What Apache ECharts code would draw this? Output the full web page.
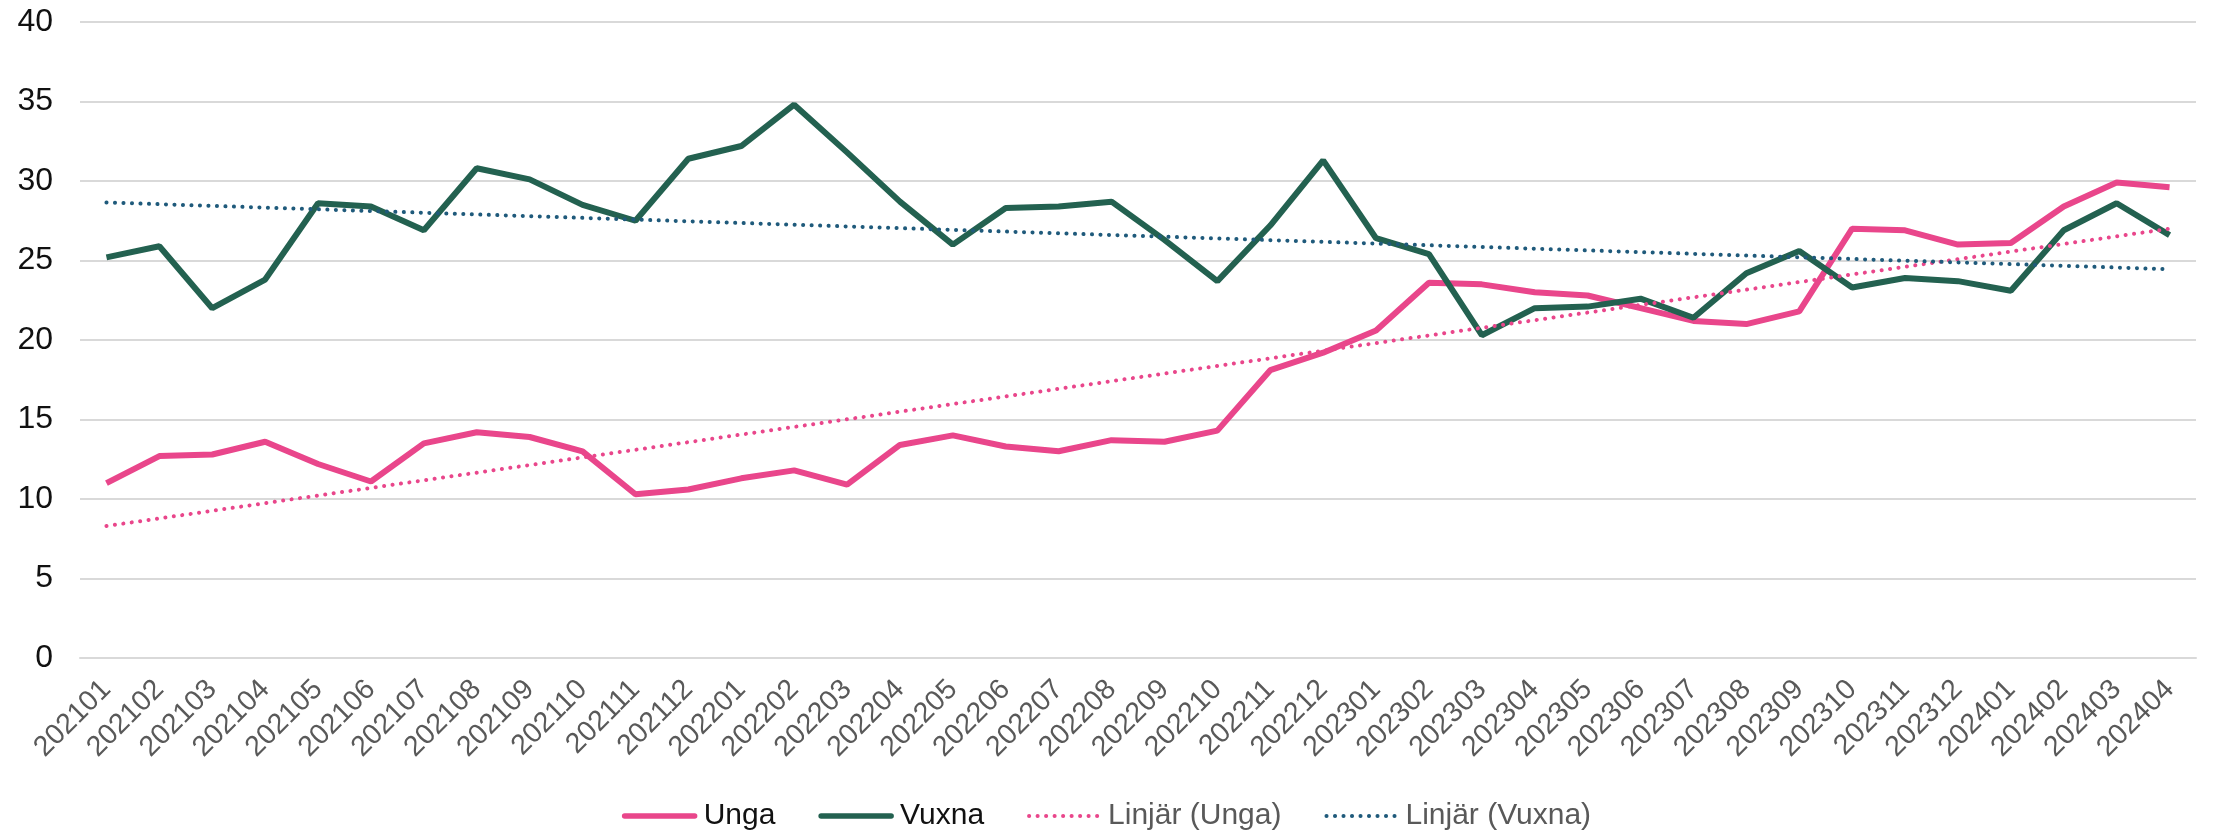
<!DOCTYPE html>
<html>
<head>
<meta charset="utf-8">
<title>Unga och vuxna</title>
<script src="https://cdn.jsdelivr.net/npm/echarts@6/dist/echarts.min.js"></script>
<style>
  html, body { margin: 0; padding: 0; background: #fff; }
  #chart { width: 2213px; height: 832px; }
</style>
</head>
<body>
<div id="chart"></div>
<script>
// månader (x-axel)
const months = [
  '202101', '202102', '202103', '202104', '202105', '202106', '202107', '202108', '202109', '202110',
  '202111', '202112', '202201', '202202', '202203', '202204', '202205', '202206', '202207', '202208',
  '202209', '202210', '202211', '202212', '202301', '202302', '202303', '202304', '202305', '202306',
  '202307', '202308', '202309', '202310', '202311', '202312', '202401', '202402', '202403', '202404'
];

const unga = [
  11.0, 12.7, 12.8, 13.6, 12.2, 11.1, 13.5, 14.2, 13.9, 13.0,
  10.3, 10.6, 11.3, 11.8, 10.9, 13.4, 14.0, 13.3, 13.0, 13.7,
  13.6, 14.3, 18.1, 19.2, 20.6, 23.6, 23.5, 23.0, 22.8, 22.0,
  21.2, 21.0, 21.8, 27.0, 26.9, 26.0, 26.1, 28.4, 29.9, 29.6
];

const vuxna = [
  25.2, 25.9, 22.0, 23.8, 28.6, 28.4, 26.9, 30.8, 30.1, 28.5,
  27.5, 31.4, 32.2, 34.8, 31.8, 28.7, 26.0, 28.3, 28.4, 28.7,
  26.3, 23.7, 27.2, 31.3, 26.4, 25.4, 20.3, 22.0, 22.1, 22.6,
  21.4, 24.2, 25.6, 23.3, 23.9, 23.7, 23.1, 26.9, 28.6, 26.6
];

// trendlinjer: värde vid första och sista månaden (avläst)
const trendUnga = [8.3, 27.0];
const trendVuxna = [28.65, 24.45];

const yTicks = [0, 5, 10, 15, 20, 25, 30, 35, 40];

const pink = '#E9468B';
const green = '#236150';
const blue = '#1F5A7B';
const font = '"Liberation Sans", Arial, sans-serif';

const chart = echarts.init(document.getElementById('chart'));

const trendPoints = vals => [
  [months[0], vals[0]],
  [months[months.length - 1], vals[1]]
];

const dotted = color => ({
  color: color,
  width: 4,
  type: [0.1, 8.4],
  cap: 'round'
});

const option = {
  animation: false,
  backgroundColor: '#fff',
  textStyle: { fontFamily: font },
  grid: { left: 80, right: 17, top: 22, bottom: 174 },
  xAxis: {
    type: 'category',
    data: months,
    boundaryGap: true,
    axisLine: { lineStyle: { color: '#D9D9D9', width: 2 } },
    axisTick: { show: false },
    axisLabel: {
      interval: 0,
      rotate: 45,
      margin: 27,
      color: '#595959',
      fontSize: 28.5,
      fontFamily: font
    }
  },
  yAxis: {
    type: 'value',
    min: yTicks[0],
    max: yTicks[yTicks.length - 1],
    interval: 5,
    axisLine: { show: false },
    axisTick: { show: false },
    axisLabel: { color: '#111', fontSize: 32, margin: 27, fontFamily: font },
    splitLine: { lineStyle: { color: '#D9D9D9', width: 2 } }
  },
  legend: {
    left: 'center',
    top: 796,
    itemWidth: 70,
    itemHeight: 30,
    itemGap: 43,
    itemStyle: { opacity: 0 },
    lineStyle: { width: 5.5, cap: 'round' },
    textStyle: { fontSize: 30, fontFamily: font, padding: [0, 0, 0, 4] },
    data: [
      { name: 'Unga', textStyle: { color: '#111' } },
      { name: 'Vuxna', textStyle: { color: '#111' } },
      { name: 'Linjär (Unga)', lineStyle: { width: 4 }, textStyle: { color: '#595959' } },
      { name: 'Linjär (Vuxna)', lineStyle: { width: 4 }, textStyle: { color: '#595959' } }
    ]
  },
  series: [
    {
      name: 'Unga',
      type: 'line',
      data: unga,
      symbol: 'none',
      color: pink,
      lineStyle: { color: pink, width: 6 },
      z: 2
    },
    {
      name: 'Vuxna',
      type: 'line',
      data: vuxna,
      symbol: 'none',
      color: green,
      lineStyle: { color: green, width: 6 },
      z: 3
    },
    {
      name: 'Linjär (Unga)',
      type: 'line',
      data: trendPoints(trendUnga),
      symbol: 'none',
      color: pink,
      lineStyle: dotted(pink),
      z: 4
    },
    {
      name: 'Linjär (Vuxna)',
      type: 'line',
      data: trendPoints(trendVuxna),
      symbol: 'none',
      color: blue,
      lineStyle: dotted(blue),
      z: 5
    }
  ]
};

chart.setOption(option);
</script>
</body>
</html>
